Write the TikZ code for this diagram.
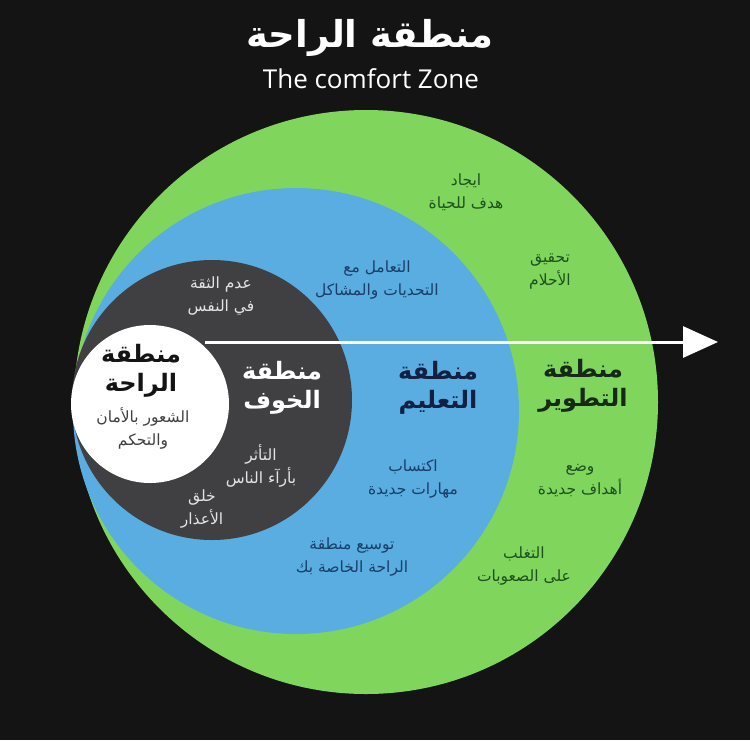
\documentclass[tikz,border=0pt]{standalone}
\usepackage{fontspec}
\setmainfont{Open Sans}
\newfontfamily\arabicfont[Script=Arabic]{DejaVu Sans}
\TeXXeTstate=1
\definecolor{ZoneBlack}{RGB}{20, 20, 20}
\definecolor{ZoneGreen}{RGB}{128, 214, 92}
\definecolor{ZoneBlue}{RGB}{90, 173, 224}
\definecolor{ZoneGrey}{RGB}{64, 64, 66}
\definecolor{GreenInk}{RGB}{30, 80, 30}
\definecolor{GreenDark}{RGB}{22, 40, 22}
\definecolor{BlueInk}{RGB}{25, 62, 105}
\definecolor{BlueDark}{RGB}{18, 32, 66}
\definecolor{GreyInk}{RGB}{228, 228, 228}
\usetikzlibrary{arrows.meta, positioning}

\newcommand{\arline}[1]{\beginR #1\endR}

\tikzset{
  zone/.style={circle, inner sep=0pt, draw=none},
  heading/.style={align=center, inner sep=0pt, font=\arabicfont\bfseries\fontsize{24}{29}\selectfont},
  note/.style={align=center, inner sep=0pt, font=\arabicfont\fontsize{15.5}{23}\selectfont}
}

\begin{document}
\begin{tikzpicture}[x=1pt, y=-1pt]
    \fill[ZoneBlack] (0,0) rectangle (750,740);

    % title
    \node[heading, white, font=\arabicfont\bfseries\fontsize{37}{42}\selectfont] (title) at (370,38) {\arline{منطقة الراحة}};
    \node[white, inner sep=0pt, font=\fontsize{26}{30}\selectfont] (subtitle) at (371,79) {The comfort Zone};

    % the four zones
    \node[zone, fill=ZoneGreen, minimum size=584pt] (growth) at (366,402) {};
    \node[zone, fill=ZoneBlue, minimum size=446pt] (learning) at (296,411) {};
    \node[zone, fill=ZoneGrey, minimum size=280pt] (fear) at (212,400) {};
    \node[zone, fill=white, minimum size=158pt] (comfort) at (150,404) {};

    % arrow
    \coordinate (arrowstart) at (205,342);
    \coordinate (arrowend) at (718,342);
    \draw[white, line width=3pt, -{Triangle[length=35pt, width=31pt]}] (arrowstart) -- (arrowend);

    % comfort zone
    \node[heading, ZoneBlack] (comfortname) at (141,371) {\arline{منطقة}\\\arline{الراحة}};
    \node[note, ZoneGrey] (comfortnote) at (143,428) {\arline{الشعور بالأمان}\\\arline{والتحكم}};

    % fear zone
    \node[heading, white] (fearname) at (282,388) {\arline{منطقة}\\\arline{الخوف}};
    \node[note, GreyInk] (fearnote1) at (221,296) {\arline{عدم الثقة}\\\arline{في النفس}};
    \node[note, GreyInk] (fearnote2) at (261,466) {\arline{التأثر}\\\arline{بأرآء الناس}};
    \node[note, GreyInk] (fearnote3) at (202,509) {\arline{خلق}\\\arline{الأعذار}};

    % learning zone
    \node[heading, BlueDark] (learningname) at (438,388) {\arline{منطقة}\\\arline{التعليم}};
    \node[note, BlueInk] (learningnote1) at (377,280) {\arline{التعامل مع}\\\arline{التحديات والمشاكل}};
    \node[note, BlueInk] (learningnote2) at (413,479) {\arline{اكتساب}\\\arline{مهارات جديدة}};
    \node[note, BlueInk] (learningnote3) at (352,557) {\arline{توسيع منطقة}\\\arline{الراحة الخاصة بك}};

    % growth zone
    \node[heading, GreenDark] (growthname) at (583,386) {\arline{منطقة}\\\arline{التطوير}};
    \node[note, GreenInk] (growthnote1) at (466,192) {\arline{ايجاد}\\\arline{هدف للحياة}};
    \node[note, GreenInk] (growthnote2) at (550,272) {\arline{تحقيق}\\\arline{الأحلام}};
    \node[note, GreenInk] (growthnote3) at (580,481) {\arline{وضع}\\\arline{أهداف جديدة}};
    \node[note, GreenInk] (growthnote4) at (524,566) {\arline{التغلب}\\\arline{على الصعوبات}};
  \end{tikzpicture}
\end{document}
